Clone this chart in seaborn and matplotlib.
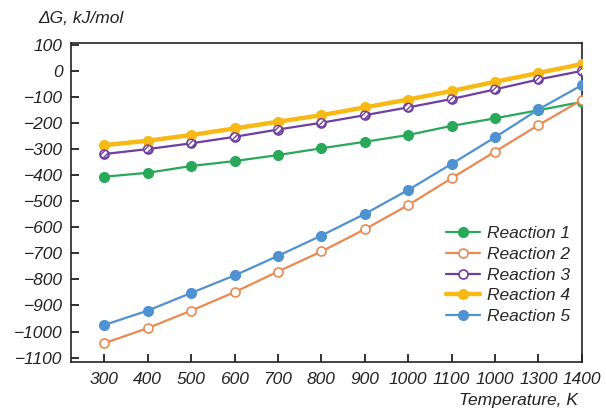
import matplotlib
matplotlib.use("Agg")
import matplotlib.pyplot as plt
import seaborn as sns
import pandas as pd

temps = [300, 400, 500, 600, 700, 800, 900, 1000, 1100, 1200, 1300, 1400]
tick_labels = ["300", "400", "500", "600", "700", "800", "900", "1000",
               "1100", "1000", "1300", "1400"]
y_ticks = [100, 0, -100, -200, -300, -400, -500, -600, -700, -800, -900, -1000, -1100]

reaction1 = [-406, -391, -365, -346, -323, -297, -272, -246, -211, -182, -151, -119]
reaction2 = [-1045, -987, -920, -849, -770, -693, -608, -515, -412, -310, -208, -112]
reaction3 = [-319, -300, -278, -253, -225, -199, -170, -140, -108, -71, -33, 0]
reaction4 = [-285, -268, -246, -221, -195, -170, -140, -110, -77, -42, -8, 26]
reaction5 = [-975, -920, -852, -785, -710, -632, -549, -457, -357, -255, -148, -55]

names = ["Reaction 1", "Reaction 2", "Reaction 3", "Reaction 4", "Reaction 5"]
series = [reaction1, reaction2, reaction3, reaction4, reaction5]
colors = ["#29a85a", "#ea8a52", "#6e3fa0", "#f7b916", "#4f92d2"]

df = pd.DataFrame({
    "T": temps * len(names),
    "dG": [v for s in series for v in s],
    "reaction": [n for n in names for _ in temps],
})

sns.set_style("ticks")
plt.rcParams["font.family"] = ["Liberation Sans", "DejaVu Sans"]
plt.rcParams["font.style"] = "italic"
fs = 12.5

fig = plt.figure(figsize=(6.06, 4.13), dpi=100)
ax = fig.add_axes([0.117, 0.1235, 0.843, 0.773])

# line + marker styling per reaction
style = {
    "Reaction 1": dict(lw=1.6, mfc=colors[0], mec=colors[0], ms=7),
    "Reaction 2": dict(lw=1.6, mfc="white", mec=colors[1], ms=6.5, mew=1.2),
    "Reaction 3": dict(lw=1.6, mfc="white", mec=colors[2], ms=6.5, mew=1.2),
    "Reaction 4": dict(lw=3.2, mfc=colors[3], mec=colors[3], ms=7),
    "Reaction 5": dict(lw=1.6, mfc=colors[4], mec=colors[4], ms=7),
}
for name, col in zip(names, colors):
    st = style[name]
    sns.lineplot(data=df[df["reaction"] == name], x="T", y="dG", ax=ax,
                 color=col, marker="o", label=name, linewidth=st["lw"],
                 markerfacecolor=st["mfc"], markeredgecolor=st["mec"],
                 markersize=st["ms"], markeredgewidth=st.get("mew", 1.0),
                 zorder=3)

# hatched markers for reaction 3
sub = df[df["reaction"] == "Reaction 3"]
sns.scatterplot(data=sub, x="T", y="dG", ax=ax, s=34, facecolor="white",
                edgecolor=colors[2], hatch="//////", linewidth=1.0, zorder=4,
                legend=False)

ax.set_xlim(223, 1400)
ax.set_ylim(-1117, 108)
ax.set_xticks(temps)
ax.set_xticklabels(tick_labels)
ax.set_yticks(y_ticks)
ax.set_xlabel("")
ax.set_ylabel("")
ax.tick_params(direction="in", length=6, width=1.3, labelsize=fs, pad=7,
               colors="#222222", top=False, right=False, left=True, bottom=True)
ax.tick_params(axis="y", pad=6)
ax.minorticks_off()
for sp in ax.spines.values():
    sp.set_visible(True)
    sp.set_linewidth(1.2)
    sp.set_color("#222222")

leg = ax.legend(loc="lower left", bbox_to_anchor=(0.703, 0.069), frameon=False,
                handlelength=2.0, handletextpad=0.4, labelspacing=0.33,
                fontsize=fs, borderpad=0.4)

fig.text(0.063, 0.956, "ΔG, kJ/mol", ha="left", va="center", fontsize=fs,
         color="#222222")
fig.text(0.954, 0.031, "Temperature, K", ha="right", va="center", fontsize=fs,
         color="#222222")

fig.savefig("out.png", dpi=100, facecolor="white")
